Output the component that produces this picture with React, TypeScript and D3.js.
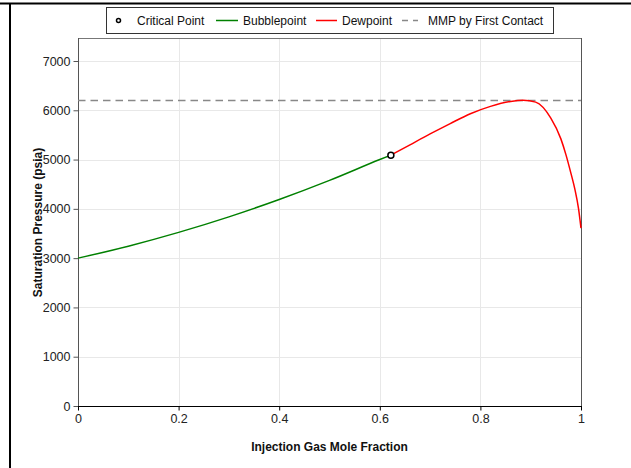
import React, { useRef, useEffect } from "react";
import * as d3 from "d3";

// values
const bubbleX = [0, 0.1, 0.2, 0.3, 0.4, 0.5, 0.6, 0.622];
const bubbleP = [3000, 3243, 3523, 3838, 4190, 4578, 5001, 5090];
const dewX = [0.622, 0.66, 0.7, 0.74, 0.78, 0.82, 0.86, 0.885, 0.91, 0.94, 0.96, 0.97, 0.98, 0.988, 0.995, 1.0];
const dewP = [5090, 5300, 5520, 5730, 5930, 6080, 6180, 6205, 6165, 5840, 5420, 5100, 4720, 4390, 4010, 3610];
const critical = { x: 0.622, p: 5090 };
const mmp = 6200;
const xTicks = [0, 0.2, 0.4, 0.6, 0.8, 1];
const yTicks = [0, 1000, 2000, 3000, 4000, 5000, 6000, 7000];
const legendItems = ["Critical Point", "Bubblepoint", "Dewpoint", "MMP by First Contact"];

const W = 631;
const H = 468;

const App = () => {
  const svgRef = useRef<SVGSVGElement>(null);

  useEffect(() => {
    const svg = d3.select(svgRef.current);
    svg.selectAll("*").remove();
    const font = "Liberation Sans, Arial, sans-serif";

    const left = 78, right = 581, top = 38, bottom = 406;
    const x = d3.scaleLinear().domain([0, 1]).range([left, right]);
    const y = d3.scaleLinear().domain([0, 7000]).range([bottom, 61]);

    // outer frame lines
    svg.append("line").attr("x1", 0).attr("x2", W).attr("y1", 3.5).attr("y2", 3.5)
      .attr("stroke", "#000").attr("stroke-width", 2);
    svg.append("line").attr("x1", 10).attr("x2", 10).attr("y1", 3).attr("y2", H)
      .attr("stroke", "#000").attr("stroke-width", 2);

    // grid
    const grid = svg.append("g").attr("stroke", "#e8e8e8").attr("stroke-width", 1);
    xTicks.slice(1, -1).forEach((t) => {
      grid.append("line").attr("x1", Math.round(x(t)) + 0.5).attr("x2", Math.round(x(t)) + 0.5)
        .attr("y1", top).attr("y2", bottom);
    });
    yTicks.slice(1).forEach((t) => {
      grid.append("line").attr("x1", left).attr("x2", right)
        .attr("y1", Math.round(y(t)) + 0.5).attr("y2", Math.round(y(t)) + 0.5);
    });

    // plot frame top + right
    svg.append("line").attr("x1", left).attr("x2", right).attr("y1", top + 0.5).attr("y2", top + 0.5)
      .attr("stroke", "#777");
    svg.append("line").attr("x1", right + 0.5).attr("x2", right + 0.5).attr("y1", top).attr("y2", bottom)
      .attr("stroke", "#555");

    // axes
    const yAxis = svg.append("g").attr("transform", `translate(${left + 0.5},0)`)
      .call(d3.axisLeft(y).tickValues(yTicks).tickFormat(d3.format("d")).tickSize(5).tickPadding(3));
    yAxis.select(".domain").attr("stroke", "#555").attr("d", `M0,${top}V${bottom}`);
    yAxis.selectAll(".tick line").attr("stroke", "#555");
    yAxis.selectAll("text").attr("fill", "#222").style("font-family", font).style("font-size", "12.5px");

    const xAxis = svg.append("g").attr("transform", `translate(0,${bottom + 0.5})`)
      .call(d3.axisBottom(x).tickValues(xTicks).tickFormat((d) => String(d)).tickSize(4).tickPadding(4));
    xAxis.select(".domain").attr("stroke", "#000").attr("d", `M${left},0H${right + 1}`);
    xAxis.selectAll(".tick line").attr("stroke", "#000");
    xAxis.selectAll("text").attr("fill", "#222").style("font-family", font).style("font-size", "12.5px");

    // MMP line
    svg.append("line").attr("x1", left).attr("x2", right).attr("y1", y(mmp)).attr("y2", y(mmp))
      .attr("stroke", "#888").attr("stroke-width", 1.5).attr("stroke-dasharray", "7.5,5");

    const line = d3.line<number>().curve(d3.curveMonotoneX);
    svg.append("path")
      .attr("d", line.x((d, i) => x(bubbleX[i])).y((d) => y(d))(bubbleP))
      .attr("fill", "none").attr("stroke", "#008000").attr("stroke-width", 1.5);
    svg.append("path")
      .attr("d", d3.line<number>().curve(d3.curveMonotoneX)
        .x((d, i) => x(dewX[i])).y((d) => y(d))(dewP))
      .attr("fill", "none").attr("stroke", "#ff0000").attr("stroke-width", 1.5);

    svg.append("circle").attr("cx", x(critical.x)).attr("cy", y(critical.p)).attr("r", 3)
      .attr("fill", "#fff").attr("stroke", "#000").attr("stroke-width", 1.5);

    // axis titles
    svg.append("text").attr("x", (left + right) / 2).attr("y", 451).attr("text-anchor", "middle")
      .style("font-family", font).style("font-size", "12px").style("font-weight", "bold")
      .attr("fill", "#111").text("Injection Gas Mole Fraction");
    svg.append("text").attr("transform", `translate(42,222.5) rotate(-90)`)
      .attr("text-anchor", "middle").style("font-family", font).style("font-size", "12px")
      .style("font-weight", "bold").attr("fill", "#111").text("Saturation Pressure (psia)");

    // legend
    const lg = svg.append("g");
    lg.append("rect").attr("x", 106.5).attr("y", 7.5).attr("width", 447).attr("height", 26)
      .attr("fill", "#fff").attr("stroke", "#333").attr("stroke-width", 1);
    const ly = 20.5;
    lg.append("circle").attr("cx", 118.5).attr("cy", ly).attr("r", 2)
      .attr("fill", "#fff").attr("stroke", "#000").attr("stroke-width", 1.5);
    const swatches = [
      { x1: 216, x2: 238, color: "#008000", dash: null },
      { x1: 316, x2: 337, color: "#ff0000", dash: null },
      { x1: 402, x2: 418, color: "#888", dash: "6,5" },
    ];
    swatches.forEach((s) => {
      lg.append("line").attr("x1", s.x1).attr("x2", s.x2).attr("y1", ly).attr("y2", ly)
        .attr("stroke", s.color).attr("stroke-width", 1.5).attr("stroke-dasharray", s.dash);
    });
    const textX = [137, 243, 342, 428];
    legendItems.forEach((t, i) => {
      lg.append("text").attr("x", textX[i]).attr("y", ly + 4.3)
        .style("font-family", font).style("font-size", "12px").attr("fill", "#111").text(t);
    });
  }, []);

  return (
    <svg ref={svgRef} width={W} height={H}
      style={{ position: "fixed", top: 0, left: 0, background: "#fff" }} />
  );
};

export default App;
